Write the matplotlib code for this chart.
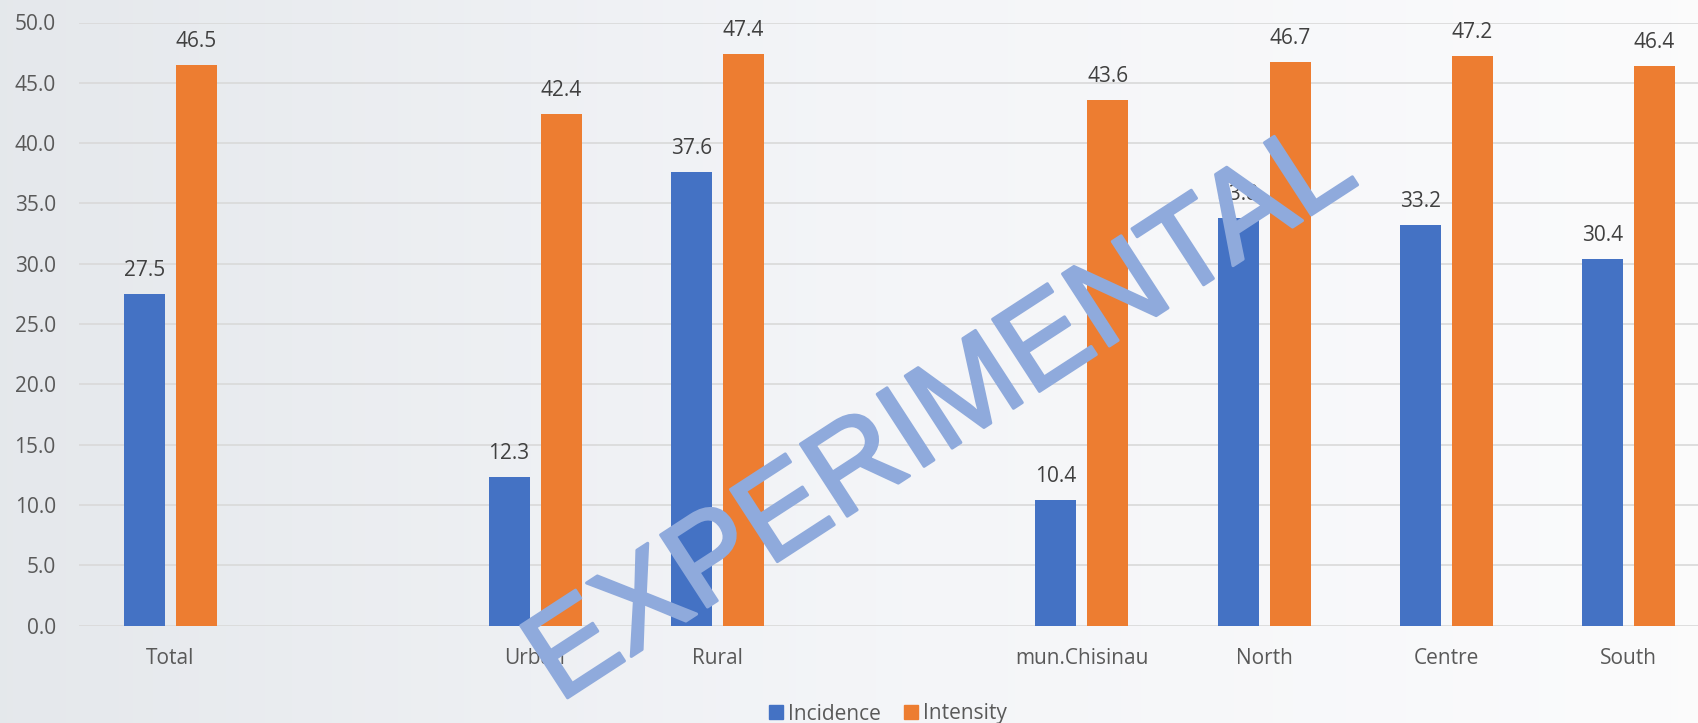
import numpy as np
import matplotlib
matplotlib.use("Agg")
import matplotlib.pyplot as plt
import matplotlib.patheffects as pe
from matplotlib.patches import Patch

categories = ["Total", "", "Urban", "Rural", "", "mun.Chisinau", "North", "Centre", "South"]
incidence = [27.5, np.nan, 12.3, 37.6, np.nan, 10.4, 33.8, 33.2, 30.4]
intensity = [46.5, np.nan, 42.4, 47.4, np.nan, 43.6, 46.7, 47.2, 46.4]
series_names = ["Incidence", "Intensity"]
yticks = [0, 5, 10, 15, 20, 25, 30, 35, 40, 45, 50]

BLUE = "#4472C4"
ORANGE = "#ED7D31"
WM = "#8FAADC"
FONT = "Open Sans"

plt.rcParams["font.family"] = [FONT, "DejaVu Sans"]

W, H = 1698, 723
fig = plt.figure(figsize=(W / 100, H / 100), dpi=100)

# background gradient
bg = fig.add_axes([0, 0, 1, 1], zorder=-10)
g = np.linspace(0, 1, 256)
c0 = np.array([0.898, 0.910, 0.925])
c1 = np.array([0.955, 0.960, 0.972])
c2 = np.array([0.985, 0.985, 0.988])
cols = np.where(g[:, None] < 0.5, c0 + (c1 - c0) * (g[:, None] / 0.5),
                c1 + (c2 - c1) * ((g[:, None] - 0.5) / 0.5))
bg.imshow(cols[None, :, :], aspect="auto", extent=[0, 1, 0, 1])
bg.set_axis_off()

left = 79.4 / W
bottom = 1 - 625.5 / H
top = 1 - 22.5 / H
ax = fig.add_axes([left, bottom, 1 - left, top - bottom])
ax.patch.set_alpha(0)

x = np.arange(len(categories))
bw = 41 / 182.25
off = 26 / 182.25
ax.bar(x - off, incidence, bw, color=BLUE, label=series_names[0], zorder=3)
ax.bar(x + off, intensity, bw, color=ORANGE, label=series_names[1], zorder=3)

for xs, vals in ((x - off, incidence), (x + off, intensity)):
    for xi, v in zip(xs, vals):
        if np.isnan(v):
            continue
        ax.annotate(f"{v:.1f}", (xi, v), xytext=(0, 13), textcoords="offset points",
                    ha="center", va="baseline", fontsize=15, color="#404040", zorder=4)

ax.set_ylim(0, 50)
ax.set_xlim(-0.5, -0.5 + (W - 79.4) / 182.25)
ax.set_yticks(yticks)
ax.set_yticklabels([f"{t:.1f}" for t in yticks])
ax.set_xticks(x)
ax.set_xticklabels(categories)
ax.tick_params(axis="both", length=0, labelsize=15, labelcolor="#595959")
ax.tick_params(axis="y", pad=17)
ax.tick_params(axis="x", pad=16)
ax.yaxis.grid(True, color="#D9D9D9", linewidth=1.2, zorder=0)
ax.set_axisbelow(True)
for s in ax.spines.values():
    s.set_visible(False)

handles = [Patch(color=BLUE), Patch(color=ORANGE)]
fig.legend(handles, series_names, loc="center", bbox_to_anchor=(888 / W, 1 - 714 / H),
           ncol=2, frameon=False, fontsize=15, handlelength=0.67, handleheight=0.67,
           handletextpad=0.25, columnspacing=1.1, borderpad=0, labelcolor="#595959")

fig.text(960 / W, 1 - 443 / H, "EXPERIMENTAL", rotation=33, rotation_mode="anchor",
         ha="center", va="baseline", fontsize=90, color=WM,
         family="Liberation Sans", zorder=20,
         path_effects=[pe.Stroke(linewidth=2.2, foreground=WM, joinstyle="round",
                                 capstyle="round"), pe.Normal()])

fig.savefig("out.png", dpi=100)
